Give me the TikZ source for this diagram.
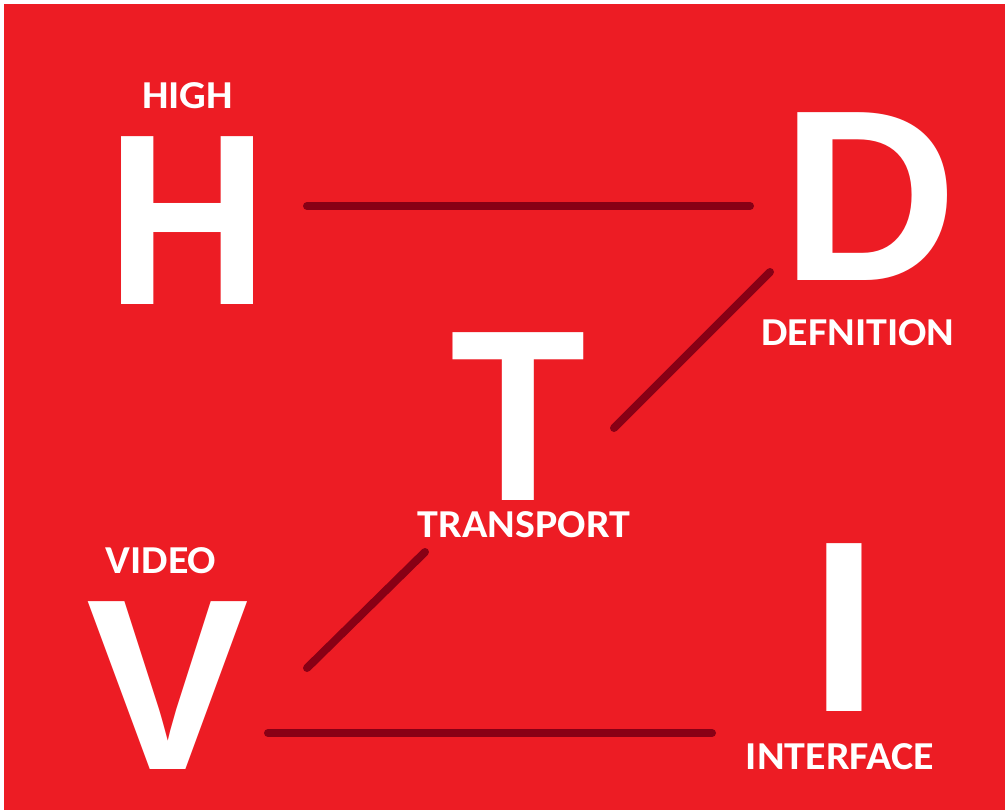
\documentclass[tikz,border=0pt]{standalone}
\usepackage{fontspec}
\setmainfont{Liberation Sans}
\newfontfamily\labelfont{Carlito}
\usepackage{tikz}
\usetikzlibrary{positioning}
\definecolor{paintred}{HTML}{ED1C24}
\definecolor{paintdark}{HTML}{880015}
\begin{document}
\begin{tikzpicture}[x=0.75pt, y=-0.75pt,
    bigletter/.style={text=white, inner sep=0pt, font=\bfseries\fontsize{183}{183}\selectfont},
    word/.style={text=white, inner sep=0pt, xscale=1.06, font=\labelfont\bfseries\fontsize{29.7}{30}\selectfont},
    link/.style={draw=paintdark, line width=6pt, line cap=round}]
    \useasboundingbox (0,0) rectangle (1005,810);
    \fill[white] (0,0) rectangle (1005,810);
    \fill[paintred] (4,4) rectangle (1005,810);

    \node[bigletter, xscale=0.92] (H) at (188,220.5) {H};
    \node[bigletter] (D) at (870,196.5) {D};
    \node[bigletter, xscale=0.91] (T) at (518,416.5) {T};
    \node[bigletter] (V) at (167.5,686) {V};
    \node[bigletter] (I) at (844,628) {I};

    \node[word] (high) at (187.5,96) {HIGH};
    \node[word] (defnition) at (858,332.5) {DEFNITION};
    \node[word] (transport) at (524,524.5) {TRANSPORT};
    \node[word] (video) at (161,560.5) {VIDEO};
    \node[word] (interface) at (840,756.5) {INTERFACE};

    \coordinate (h-d1) at (307,206);
    \coordinate (h-d2) at (750,206);
    \coordinate (d-t1) at (770,272);
    \coordinate (d-t2) at (614,428);
    \coordinate (t-v1) at (425,552);
    \coordinate (t-v2) at (307,668);
    \coordinate (v-i1) at (268,733);
    \coordinate (v-i2) at (712,733);

    \draw[link] (h-d1) -- (h-d2);
    \draw[link] (d-t1) -- (d-t2);
    \draw[link] (t-v1) -- (t-v2);
    \draw[link] (v-i1) -- (v-i2);
\end{tikzpicture}
\end{document}
